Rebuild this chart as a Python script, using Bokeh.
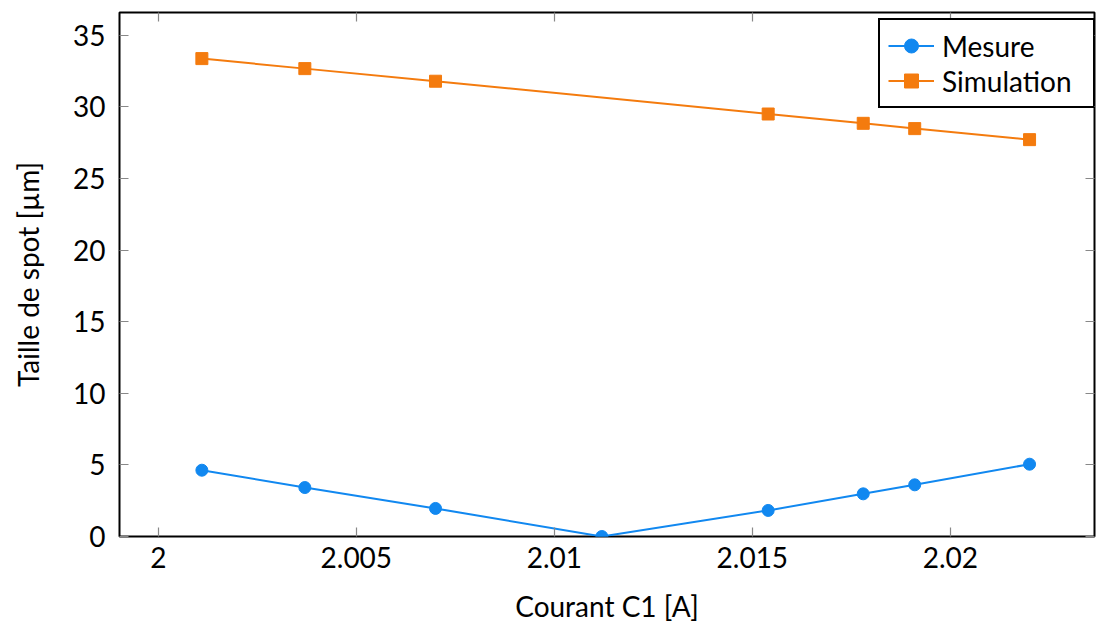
from bokeh.plotting import figure
from bokeh.models import (LinearAxis, FixedTicker, CustomJSTickFormatter, Range1d,
                          Legend, LegendItem)
from bokeh.embed import file_html
from bokeh.resources import INLINE

# Data
courant = [2.0011, 2.0037, 2.0070, 2.0112, 2.0154, 2.0178, 2.0191, 2.0220]
mesure = [4.63, 3.42, 1.96, 0.0, 1.82, 2.98, 3.61, 5.05]
courant_sim = [2.0011, 2.0037, 2.0070, 2.0154, 2.0178, 2.0191, 2.0220]
simulation = [33.38, 32.68, 31.80, 29.51, 28.86, 28.49, 27.72]
x_ticks = [2.0, 2.005, 2.01, 2.015, 2.02]
y_ticks = [0, 5, 10, 15, 20, 25, 30, 35]

BLUE = "#1188f0"
ORANGE = "#f47b0e"
FONT = "Lato"
FS = "28px"

p = figure(width=1098, height=628, output_backend="svg", toolbar_location=None,
           x_range=Range1d(1.99902, 2.02364), y_range=Range1d(0, 36.6),
           min_border_left=119, min_border_right=4, min_border_top=12,
           min_border_bottom=92, x_axis_location="below", y_axis_location="left")

p.xgrid.visible = False
p.ygrid.visible = False
p.outline_line_color = "black"
p.outline_line_width = 2
p.outline_line_alpha = 1.0
p.background_fill_color = "white"
p.border_fill_color = "white"

fmt = CustomJSTickFormatter(code="""
let s = tick.toFixed(3);
s = s.replace(/0+$/, '').replace(/\\.$/, '');
return s;
""")
blank = CustomJSTickFormatter(code="return '';")

def style_axis(ax, labels=True):
    ax.axis_line_color = None
    ax.major_tick_in = 9
    ax.major_tick_out = 0
    ax.minor_tick_in = 0
    ax.minor_tick_out = 0
    ax.major_tick_line_color = "#888888"
    ax.major_tick_line_width = 1.2
    ax.major_label_text_font = FONT
    ax.major_label_text_font_size = FS
    ax.major_label_text_color = "black"
    ax.axis_label_text_font = FONT
    ax.axis_label_text_font_size = FS
    ax.axis_label_text_font_style = "normal"
    ax.axis_label_text_color = "black"
    if not labels:
        ax.formatter = blank

xa = p.xaxis[0]
xa.ticker = FixedTicker(ticks=x_ticks)
xa.formatter = fmt
xa.axis_label = "Courant C1 [A]"
style_axis(xa)
xa.major_label_standoff = 10
xa.axis_label_standoff = 18

ya = p.yaxis[0]
ya.ticker = FixedTicker(ticks=y_ticks)
ya.axis_label = "Taille de spot [µm]"
style_axis(ya)
ya.major_label_standoff = 14
ya.axis_label_standoff = 25

top = LinearAxis(ticker=FixedTicker(ticks=x_ticks))
style_axis(top, labels=False)
p.add_layout(top, "above")
right = LinearAxis(ticker=FixedTicker(ticks=y_ticks))
style_axis(right, labels=False)
p.add_layout(right, "right")

l1 = p.line(courant, mesure, line_color=BLUE, line_width=2)
s1 = p.scatter(courant, mesure, marker="circle", size=12, fill_color=BLUE, line_color=BLUE)
l2 = p.line(courant_sim, simulation, line_color=ORANGE, line_width=2)
s2 = p.scatter(courant_sim, simulation, marker="square", size=12, fill_color=ORANGE, line_color=ORANGE)

legend = Legend(items=[LegendItem(label="Mesure", renderers=[l1, s1]),
                       LegendItem(label="Simulation", renderers=[l2, s2])],
                location=(759, 428))
legend.label_text_font = FONT
legend.label_text_font_size = FS
legend.label_text_color = "black"
legend.border_line_color = "black"
legend.border_line_width = 2
legend.border_line_alpha = 1.0
legend.background_fill_alpha = 1.0
legend.padding = 8
legend.spacing = 0
legend.glyph_width = 46
legend.glyph_height = 35
legend.label_height = 35
legend.label_width = 143
legend.label_standoff = 8
legend.margin = 0
p.add_layout(legend, "center")

open("out.html", "w").write(file_html(p, INLINE))
